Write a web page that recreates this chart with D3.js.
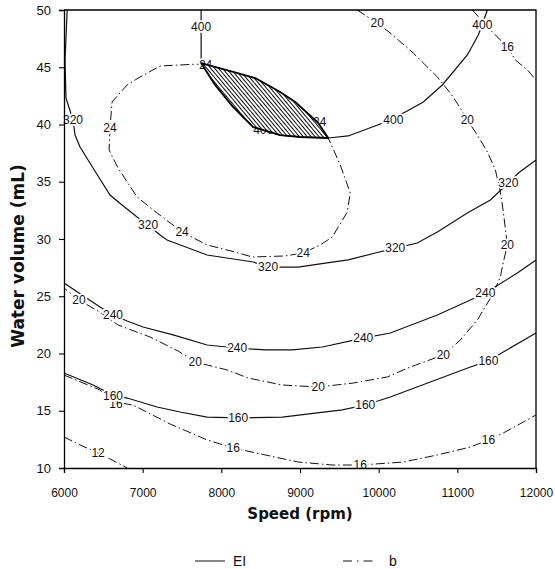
<!DOCTYPE html>
<html>
<head>
<meta charset="utf-8">
<script src="https://cdn.jsdelivr.net/npm/d3@7"></script>
<style>
  html, body { margin: 0; padding: 0; background: #fff; }
  svg { display: block; }
</style>
</head>
<body>
<div id="chart"></div>
<script>
// ---------- data (Speed rpm, Water volume mL) ----------
const speedTicks = [6000, 7000, 8000, 9000, 10000, 11000, 12000];
const waterTicks = [10, 15, 20, 25, 30, 35, 40, 45, 50];
const legendItems = ["EI", "b"];

// EI contours (solid)
const ei160 = [[6000,18.30],[6369,17.25],[6623,16.38],[6802,16.11],[7183,15.33],[7476,14.89],[7819,14.45],[8214,14.37],[8774,14.45],[9193,14.80],[9537,15.07],[9830,15.50],[10148,16.20],[10657,17.51],[11166,18.82],[11395,19.34],[11585,20.13],[12000,21.79]];
const ei160Labels = [[6623,16.35],[8214,14.37],[9830,15.50],[11395,19.34]];

const ei240 = [[6000,26.16],[6458,24.06],[6623,23.36],[6802,22.84],[7005,22.31],[7387,21.62],[7819,20.74],[8201,20.48],[8557,20.31],[8901,20.31],[9283,20.57],[9804,21.35],[10148,21.79],[10746,23.36],[11166,24.67],[11356,25.28],[11763,27.03],[12000,28.17]];
const ei240Labels = [[6623,23.36],[8201,20.48],[9804,21.35],[11356,25.28]];

const ei320 = [[6040,50],[6013,45.63],[6025,42.31],[6115,40.39],[6140,39.08],[6204,38.03],[6369,36.20],[6585,33.84],[6738,32.97],[6929,31.92],[7069,31.22],[7221,30.35],[7310,29.91],[7819,28.60],[8405,27.99],[8595,27.55],[8977,27.55],[9321,27.90],[9613,28.17],[9957,28.78],[10211,29.21],[10491,29.65],[10746,30.61],[11127,32.27],[11420,33.41],[11649,34.89],[11776,35.76],[12000,36.90]];
const ei320Labels = [[6115,40.39],[7069,31.22],[8595,27.55],[10211,29.21],[11649,34.89]];

const ei400 = [[7743,50],[7743,45.37],[7921,43.45],[8150,41.53],[8405,39.78],[8748,39.08],[9003,38.91],[9359,38.82],[9613,39.00],[10020,40.04],[10339,41.09],[10568,41.97],[10809,43.45],[11127,46.07],[11267,47.82],[11382,50]];
const ei400Labels = [[7743,48.55],[8532,39.55],[10186,40.39],[11318,48.69]];

// b contours (dash-dot)
const b12 = [[6000,12.71],[6204,12.01],[6433,11.31],[6611,10.70],[6802,10.0]];
const b12Labels = [[6433,11.31]];

const b16Low = [[6000,18.12],[6458,16.81],[6649,15.76],[6878,15.50],[7349,13.84],[7819,12.45],[8150,11.75],[8557,11.14],[8977,10.52],[9410,10.26],[9766,10.26],[10313,10.52],[10746,11.14],[11166,11.83],[11395,12.45],[11585,13.06],[11840,14.02],[12000,14.63]];
const b16LowLabels = [[6660,15.62],[8150,11.75],[9766,10.26],[11395,12.45]];

const b16High = [[11191,50],[11445,48.08],[11636,46.77],[11738,45.63],[11891,44.76],[12000,43.89]];
const b16HighLabels = [[11636,46.77]];

const b20 = [[9728,50],[9982,48.86],[10148,47.99],[10440,46.24],[10746,44.15],[10911,42.75],[11013,41.70],[11127,40.39],[11255,39.08],[11382,37.60],[11484,36.03],[11547,34.10],[11585,32.36],[11636,29.48],[11585,27.99],[11547,26.68],[11445,25.11],[11255,22.93],[11038,21.18],[10822,19.87],[10402,18.82],[10109,17.95],[9677,17.42],[9232,17.07],[8774,17.25],[8341,17.86],[8074,18.56],[7667,19.26],[7450,20.22],[7094,21.44],[6687,22.49],[6458,23.60],[6191,24.67],[6000,25.72]];
const b20Labels = [[9982,48.86],[11127,40.39],[11636,29.48],[10822,19.87],[9232,17.07],[7667,19.26],[6191,24.67]];

const b24 = [[7743,45.37],[8150,44.59],[8430,44.06],[8748,42.84],[8939,41.97],[9232,40.13],[9359,38.82],[9512,36.46],[9639,34.02],[9601,32.36],[9410,30.17],[9257,29.48],[9041,28.78],[8812,28.52],[8392,28.43],[8176,28.86],[7819,29.48],[7501,30.61],[7183,32.27],[6929,33.67],[6687,36.20],[6573,37.77],[6585,39.69],[6611,41.97],[6802,43.45],[6967,44.15],[7221,45.11],[7705,45.28],[7743,45.37]];
const b24Labels = [[7800,45.25],[6585,39.69],[7501,30.61],[9041,28.78],[9250,40.25]];

const eiContours = [
  {level: 160, points: ei160, labels: ei160Labels},
  {level: 240, points: ei240, labels: ei240Labels},
  {level: 320, points: ei320, labels: ei320Labels},
  {level: 400, points: ei400, labels: ei400Labels}
];
const bContours = [
  {level: 12, points: b12, labels: b12Labels},
  {level: 16, points: b16Low, labels: b16LowLabels},
  {level: 16, points: b16High, labels: b16HighLabels},
  {level: 20, points: b20, labels: b20Labels},
  {level: 24, points: b24, labels: b24Labels}
];
// optimum region: EI > 400 and b > 24 (between EI 400 and b 24 lines)
const optimumRegion = ei400.slice(1, 8).concat(b24.slice(0, 7).reverse());

// ---------- layout ----------
const W = 555, H = 569;
const m = {left: 64, right: 19, top: 10, bottom: 101};

const svg = d3.select("#chart").append("svg").attr("width", W).attr("height", H);

const x = d3.scaleLinear().domain([6000, 12000]).range([m.left, W - m.right]);
const y = d3.scaleLinear().domain([10, 50]).range([H - m.bottom, m.top]);

const defs = svg.append("defs");
const pat = defs.append("pattern").attr("id", "hatch").attr("patternUnits", "userSpaceOnUse")
  .attr("width", 3).attr("height", 3).attr("patternTransform", "rotate(-40)");
pat.append("rect").attr("width", 3).attr("height", 3).attr("fill", "#fff");
pat.append("line").attr("x1", 0).attr("y1", 0).attr("x2", 0).attr("y2", 3)
  .attr("stroke", "#000").attr("stroke-width", 1.9);

const line = d3.line().x(d => x(d[0])).y(d => y(d[1]));

const fontNum = "'Liberation Sans', Arial, sans-serif";
const fontBold = "'DejaVu Sans', 'Liberation Sans', sans-serif";

// contour lines
const gLines = svg.append("g");
gLines.selectAll("path.ei").data(eiContours).join("path").attr("class", "ei")
  .attr("d", d => line(d.points)).attr("fill", "none").attr("stroke", "#111").attr("stroke-width", 1.2);
gLines.selectAll("path.b").data(bContours).join("path").attr("class", "b")
  .attr("d", d => line(d.points)).attr("fill", "none").attr("stroke", "#111").attr("stroke-width", 1)
  .attr("stroke-dasharray", "9,3,1.5,3");

// contour labels (b first, EI on top)
function drawLabels(contours, cls) {
  const items = contours.flatMap(c => c.labels.map(p => ({level: c.level, p})));
  svg.append("g").selectAll("text").data(items).join("text")
    .attr("class", cls)
    .attr("x", d => x(d.p[0])).attr("y", d => y(d.p[1]))
    .attr("dy", "0.36em")
    .attr("text-anchor", "middle")
    .attr("font-family", fontNum).attr("font-size", 12)
    .attr("fill", "#111")
    .attr("stroke", "#fff").attr("stroke-width", 3.5).attr("paint-order", "stroke")
    .text(d => d.level);
}
drawLabels(bContours, "blab");
drawLabels(eiContours, "eilab");

// optimum hatched region
svg.append("path").datum(optimumRegion)
  .attr("d", d => line(d) + "Z")
  .attr("fill", "url(#hatch)").attr("stroke", "#000").attr("stroke-width", 1.8)
  .attr("stroke-linejoin", "round");

// frame (top and right)
svg.append("path")
  .attr("d", `M${x(6000)},${y(50)}H${x(12000)}V${y(10)}`)
  .attr("fill", "none").attr("stroke", "#000").attr("stroke-width", 1.3);

// axes
const gx = svg.append("g").attr("transform", `translate(0,${y(10)})`)
  .call(d3.axisBottom(x).tickValues(speedTicks).tickFormat(d3.format("d")).tickSize(5).tickPadding(15));
const gy = svg.append("g").attr("transform", `translate(${x(6000)},0)`)
  .call(d3.axisLeft(y).tickValues(waterTicks).tickFormat(d3.format("d")).tickSize(5).tickPadding(8));
[gx, gy].forEach(g => {
  g.select(".domain").attr("stroke", "#000").attr("stroke-width", 1.3);
  g.selectAll(".tick line").attr("stroke", "#000").attr("stroke-width", 1.1);
  g.selectAll("text").attr("font-family", fontNum).attr("fill", "#111");
});
gx.selectAll("text").attr("font-size", 12);
gy.selectAll("text").attr("font-size", 13);

// axis titles
svg.append("text").attr("x", (x(6000) + x(12000)) / 2).attr("y", 519)
  .attr("text-anchor", "middle").attr("font-family", fontBold).attr("font-weight", "bold")
  .attr("font-size", 15).attr("fill", "#111").text("Speed (rpm)");
svg.append("text").attr("transform", `translate(24,256) rotate(-90)`)
  .attr("text-anchor", "middle").attr("font-family", fontBold).attr("font-weight", "bold")
  .attr("font-size", 17).attr("fill", "#111").text("Water volume (mL)");

// legend
const lg = svg.append("g");
const legendX = [195, 343];
legendItems.forEach((name, i) => {
  lg.append("line").attr("x1", legendX[i]).attr("x2", legendX[i] + 30)
    .attr("y1", 561).attr("y2", 561).attr("stroke", "#111").attr("stroke-width", 1)
    .attr("stroke-dasharray", i === 0 ? null : "9,5,1.5,5");
  lg.append("text").attr("x", legendX[i] + (i === 0 ? 38 : 46)).attr("y", 566)
    .attr("font-family", fontNum).attr("font-size", 14).attr("fill", "#111").text(name);
});
</script>
</body>
</html>
